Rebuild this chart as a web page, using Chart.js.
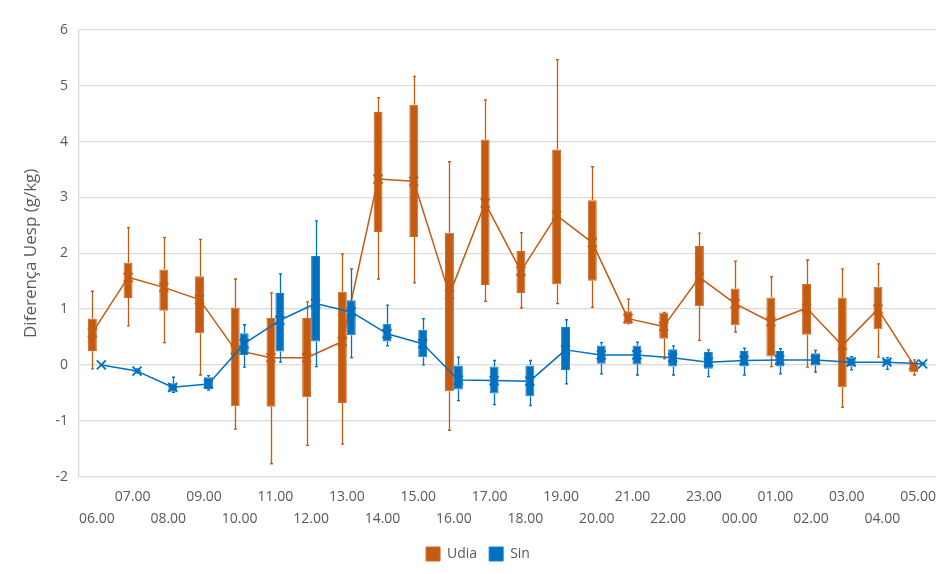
<!DOCTYPE html>
<html>
<head>
<meta charset="utf-8">
<script src="https://cdn.jsdelivr.net/npm/chart.js@4/dist/chart.umd.min.js"></script>
<style>
  html, body { margin: 0; padding: 0; background: #ffffff; }
  #wrap { width: 939px; height: 574px; }
</style>
</head>
<body>
<div id="wrap"><canvas id="chart" width="939" height="574"></canvas></div>
<script>
// Hourly difference in specific humidity (g/kg), box-and-whisker per hour
const hours = ['06.00','07.00','08.00','09.00','10.00','11.00','12.00','13.00','14.00','15.00','16.00','17.00',
               '18.00','19.00','20.00','21.00','22.00','23.00','00.00','01.00','02.00','03.00','04.00','05.00'];

// Udia series
const udiaMin  = [-0.07, 0.70, 0.40,-0.18,-1.15,-1.77,-1.44,-1.42, 1.54, 1.47,-1.17, 1.14, 1.02, 1.10, 1.03, 0.74, 0.11, 0.44, 0.59,-0.03,-0.04,-0.76, 0.14,-0.18];
const udiaQ1   = [ 0.25, 1.20, 0.97, 0.57,-0.74,-0.75,-0.58,-0.68, 2.38, 2.29,-0.47, 1.43, 1.29, 1.44, 1.51, 0.74, 0.47, 1.05, 0.71, 0.15, 0.54,-0.40, 0.64,-0.13];
const udiaQ3   = [ 0.83, 1.83, 1.71, 1.59, 1.03, 0.84, 0.84, 1.31, 4.53, 4.66, 2.37, 4.04, 2.04, 3.86, 2.95, 0.96, 0.94, 2.13, 1.37, 1.21, 1.45, 1.21, 1.40, 0.03];
const udiaMax  = [ 1.32, 2.46, 2.28, 2.25, 1.54, 1.29, 1.13, 1.99, 4.79, 5.17, 3.64, 4.75, 2.37, 5.47, 3.55, 1.18, 0.94, 2.36, 1.86, 1.58, 1.88, 1.72, 1.81, 0.09];
const udiaMean = [ 0.58, 1.57, 1.39, 1.17, 0.27, 0.13, 0.13, 0.42, 3.33, 3.29, 1.26, 2.90, 1.68, 2.68, 2.19, 0.83, 0.69, 1.57, 1.10, 0.77, 1.02, 0.35, 1.00, 0.00];

// Sin series
const sinMin  = [ 0.00,-0.14,-0.49,-0.45,-0.04, 0.05,-0.03, 0.13, 0.34, 0.00,-0.64,-0.71,-0.73,-0.34,-0.16,-0.18,-0.18,-0.21,-0.18,-0.16,-0.13,-0.09,-0.08, 0.00];
const sinQ1   = [ 0.00,-0.12,-0.48,-0.43, 0.18, 0.24, 0.42, 0.53, 0.42, 0.14,-0.44,-0.51,-0.56,-0.09, 0.02, 0.01,-0.03,-0.07,-0.03,-0.03,-0.01,-0.03,-0.01, 0.01];
const sinQ3   = [ 0.00,-0.09,-0.33,-0.22, 0.57, 1.29, 1.95, 1.16, 0.74, 0.63,-0.01,-0.03, 0.00, 0.68, 0.35, 0.35, 0.28, 0.23, 0.25, 0.25, 0.21, 0.14, 0.11, 0.03];
const sinMax  = [ 0.00,-0.07,-0.22,-0.19, 0.72, 1.63, 2.58, 1.72, 1.07, 0.83, 0.14, 0.08, 0.08, 0.81, 0.40, 0.41, 0.34, 0.27, 0.30, 0.29, 0.26, 0.15, 0.13, 0.04];
const sinMean = [ 0.00,-0.11,-0.40,-0.34, 0.38, 0.80, 1.10, 0.95, 0.56, 0.38,-0.27,-0.28,-0.29, 0.27, 0.18, 0.18, 0.13, 0.05, 0.08, 0.09, 0.09, 0.05, 0.05, 0.02];

const yTicks = [-2, -1, 0, 1, 2, 3, 4, 5, 6];

const ORANGE = '#C55A11';
const BLUE = '#0070C0';
const TEXT = '#595959';
const GRID = '#D9D9D9';
const FONT = "'Open Sans', 'Liberation Sans', sans-serif";

const series = [
  { color: ORANGE, min: udiaMin, q1: udiaQ1, q3: udiaQ3, max: udiaMax, mean: udiaMean },
  { color: BLUE,   min: sinMin,  q1: sinQ1,  q3: sinQ3,  max: sinMax,  mean: sinMean }
];

// whiskers, caps, mean line and mean markers of one series
function drawExtras(chart, i) {
  const ctx = chart.ctx;
  const meta = chart.getDatasetMeta(i);
  const y = chart.scales.y;
  const s = series[i];
  ctx.save();
  ctx.lineCap = 'butt';
  ctx.strokeStyle = s.color;
  ctx.lineWidth = 1.3;
  meta.data.forEach((bar, j) => {
    const x = Math.round(bar.x) + 0.5;
    const pMax = y.getPixelForValue(s.max[j]);
    const pQ3 = y.getPixelForValue(s.q3[j]);
    const pQ1 = y.getPixelForValue(s.q1[j]);
    const pMin = y.getPixelForValue(s.min[j]);
    ctx.beginPath();
    ctx.moveTo(x, pMax); ctx.lineTo(x, pQ3);
    ctx.moveTo(x, pQ1); ctx.lineTo(x, pMin);
    ctx.moveTo(x - 1.5, pMax); ctx.lineTo(x + 1.5, pMax);
    ctx.moveTo(x - 1.5, pMin); ctx.lineTo(x + 1.5, pMin);
    ctx.stroke();
  });
  // line through the means
  ctx.lineWidth = 1.5;
  ctx.lineJoin = 'round';
  ctx.beginPath();
  meta.data.forEach((bar, j) => {
    const py = y.getPixelForValue(s.mean[j]);
    if (j === 0) ctx.moveTo(bar.x, py); else ctx.lineTo(bar.x, py);
  });
  ctx.stroke();
  // mean markers (x)
  ctx.lineWidth = 1.8;
  meta.data.forEach((bar, j) => {
    const py = y.getPixelForValue(s.mean[j]);
    const r = 4.5;
    ctx.beginPath();
    ctx.moveTo(bar.x - r, py - r); ctx.lineTo(bar.x + r, py + r);
    ctx.moveTo(bar.x - r, py + r); ctx.lineTo(bar.x + r, py - r);
    ctx.stroke();
  });
  ctx.restore();
}

// Udia is painted first (boxes and extras), then Sin on top of it
const boxPlot = {
  id: 'boxPlot',
  beforeDatasetsDraw(chart) {
    chart.getDatasetMeta(0).controller.draw();
    drawExtras(chart, 0);
  },
  beforeDatasetDraw(chart, args) {
    if (args.index === 0) return false;
  },
  afterDatasetDraw(chart, args) {
    if (args.index === 1) drawExtras(chart, 1);
  }
};

const ctx = document.getElementById('chart').getContext('2d');
new Chart(ctx, {
  type: 'bar',
  data: {
    labels: hours,
    datasets: [
      {
        label: 'Udia',
        data: hours.map((_, i) => [udiaQ1[i], udiaQ3[i]]),
        backgroundColor: ORANGE,
        borderColor: '#CD6B2B',
        borderWidth: 1,
        borderSkipped: false,
        categoryPercentage: 0.5,
        barPercentage: 1.0
      },
      {
        label: 'Sin',
        data: hours.map((_, i) => [sinQ1[i], sinQ3[i]]),
        backgroundColor: BLUE,
        borderColor: '#1A7EC7',
        borderWidth: 1,
        borderSkipped: false,
        categoryPercentage: 0.5,
        barPercentage: 1.0
      }
    ]
  },
  options: {
    responsive: false,
    animation: false,
    devicePixelRatio: 1,
    layout: { padding: { top: 30, right: 3, left: 20, bottom: 3 } },
    plugins: {
      legend: {
        position: 'bottom',
        labels: {
          color: TEXT,
          font: { family: FONT, size: 14 },
          boxWidth: 14,
          boxHeight: 14,
          padding: 12
        }
      },
      tooltip: { enabled: false }
    },
    scales: {
      x: {
        offset: true,
        grid: { display: false, drawTicks: false },
        border: { display: false },
        afterFit: (scale) => { scale.height = 58.4; scale.paddingLeft = 0; scale.paddingRight = 0; },
        ticks: {
          autoSkip: false,
          maxRotation: 0,
          minRotation: 0,
          padding: 9,
          color: TEXT,
          font: { family: FONT, size: 14, lineHeight: 1.6 },
          callback: (v, i) => (i % 2 ? hours[i] : ['', hours[i]])
        }
      },
      y: {
        min: yTicks[0],
        max: yTicks[yTicks.length - 1],
        afterBuildTicks: (scale) => { scale.ticks = yTicks.map(v => ({ value: v })); },
        afterFit: (scale) => { scale.width = 59; },
        grid: { color: GRID, lineWidth: 1.3, drawTicks: false },
        border: { display: true, color: GRID, width: 1.3 },
        ticks: {
          padding: 11,
          color: TEXT,
          font: { family: FONT, size: 14 }
        },
        title: {
          display: true,
          text: 'Diferença Uesp (g/kg)',
          color: TEXT,
          font: { family: FONT, size: 17 },
          padding: { top: 1, bottom: 0 }
        }
      }
    }
  },
  plugins: [boxPlot]
});
</script>
</body>
</html>
